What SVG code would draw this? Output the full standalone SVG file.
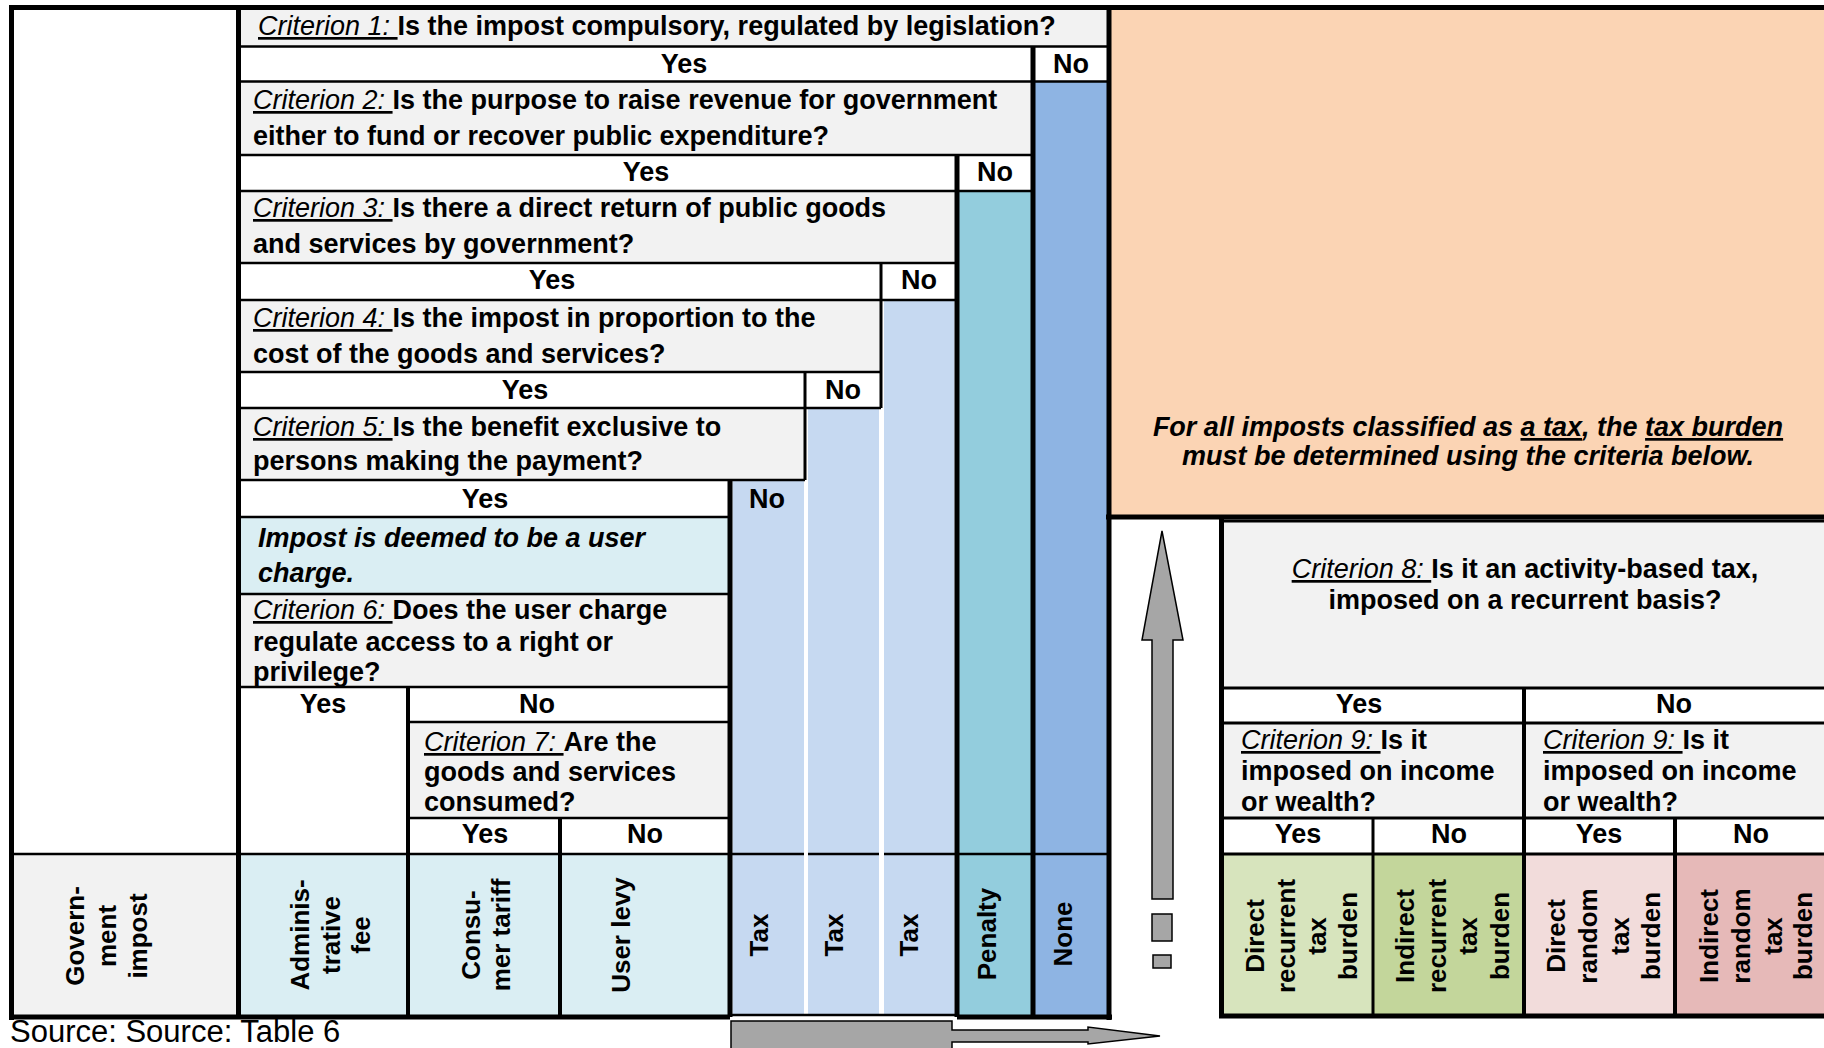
<svg xmlns="http://www.w3.org/2000/svg" width="1824" height="1048" viewBox="0 0 1824 1048">
<style>
text{font-family:"Liberation Sans",Arial,sans-serif;font-size:27px;font-weight:bold;fill:#000}
.m{text-anchor:middle}
.c{font-style:italic;font-weight:normal;text-decoration:underline}
.i{font-style:italic}
.u{text-decoration:underline}
.r{font-size:26px;text-anchor:middle}
.src{font-weight:normal;font-size:31px}
.q{fill:#f2f2f2}.w{fill:#fff}.lb{fill:#daeef3}.tx{fill:#c6d9f1}.pe{fill:#93cddd}.nn{fill:#8eb4e3}.or{fill:#fbd4b4}
.g1{fill:#d7e4bd}.g2{fill:#c3d69b}.p1{fill:#f2dcdb}.p2{fill:#e6b9b8}
.k{stroke:#000;stroke-width:5;fill:none}
.s{stroke:#000;stroke-width:2.5;fill:none}
.s4{stroke:#000;stroke-width:4;fill:none}
.arr{fill:#a6a6a6;stroke:#000;stroke-width:1.5}
</style>
<rect width="1824" height="1048" fill="#fff"/>

<g id="corner"><rect class="w" x="11.5" y="8" width="227" height="846"/></g>

<g id="crit1"><rect class="q" x="238.5" y="8" width="870.5" height="38.5"/>
<text x="258" y="35"><tspan class="c">Criterion 1: </tspan>Is the impost compulsory, regulated by legislation?</text></g>
<g id="yes1"><rect class="w" x="238.5" y="46.5" width="794.5" height="35"/><text class="m" x="684" y="73">Yes</text></g>
<g id="no1"><rect class="w" x="1033" y="46.5" width="76" height="35"/><text class="m" x="1071" y="73">No</text></g>

<g id="crit2"><rect class="q" x="238.5" y="81.5" width="794.5" height="73.5"/>
<text x="253" y="109"><tspan class="c">Criterion 2: </tspan>Is the purpose to raise revenue for government</text>
<text x="253" y="145">either to fund or recover public expenditure?</text></g>
<g id="yes2"><rect class="w" x="238.5" y="155" width="718.5" height="36"/><text class="m" x="646" y="181">Yes</text></g>
<g id="no2"><rect class="w" x="957" y="155" width="76" height="36"/><text class="m" x="995" y="181">No</text></g>

<g id="crit3"><rect class="q" x="238.5" y="191" width="718.5" height="72"/>
<text x="253" y="217"><tspan class="c">Criterion 3: </tspan>Is there a direct return of public goods</text>
<text x="253" y="253">and services by government?</text></g>
<g id="yes3"><rect class="w" x="238.5" y="263" width="642.5" height="37"/><text class="m" x="552" y="289">Yes</text></g>
<g id="no3"><rect class="w" x="881" y="263" width="76" height="37"/><text class="m" x="919" y="289">No</text></g>

<g id="crit4"><rect class="q" x="238.5" y="300" width="642.5" height="72"/>
<text x="253" y="327"><tspan class="c">Criterion 4: </tspan>Is the impost in proportion to the</text>
<text x="253" y="363">cost of the goods and services?</text></g>
<g id="yes4"><rect class="w" x="238.5" y="372" width="566.5" height="36"/><text class="m" x="525" y="399">Yes</text></g>
<g id="no4"><rect class="w" x="805" y="372" width="76" height="36"/><text class="m" x="843" y="399">No</text></g>

<g id="crit5"><rect class="q" x="238.5" y="408" width="566.5" height="72"/>
<text x="253" y="436"><tspan class="c">Criterion 5: </tspan>Is the benefit exclusive to</text>
<text x="253" y="470">persons making the payment?</text></g>
<g id="yes5"><rect class="w" x="238.5" y="480" width="491.5" height="37"/><text class="m" x="485" y="508">Yes</text></g>

<g id="user-charge"><rect class="lb" x="238.5" y="517" width="491.5" height="77"/>
<text class="i" x="258" y="547">Impost is deemed to be a user</text>
<text class="i" x="258" y="582">charge.</text></g>

<g id="crit6"><rect class="q" x="238.5" y="594" width="491.5" height="93"/>
<text x="253" y="619"><tspan class="c">Criterion 6: </tspan>Does the user charge</text>
<text x="253" y="651">regulate access to a right or</text>
<text x="253" y="681">privilege?</text></g>
<g id="yes6"><rect class="w" x="238.5" y="687" width="169.5" height="167"/><text class="m" x="323" y="713">Yes</text></g>
<g id="no6"><rect class="w" x="408" y="687" width="322" height="35"/><text class="m" x="537" y="713">No</text></g>

<g id="crit7"><rect class="q" x="408" y="722" width="322" height="96"/>
<text x="424" y="751"><tspan class="c">Criterion 7: </tspan>Are the</text>
<text x="424" y="781">goods and services</text>
<text x="424" y="811">consumed?</text></g>
<g id="yes7"><rect class="w" x="408" y="818" width="152" height="36"/><text class="m" x="485" y="843">Yes</text></g>
<g id="no7"><rect class="w" x="560" y="818" width="170" height="36"/><text class="m" x="645" y="843">No</text></g>

<g id="out-gov"><rect class="q" x="11.5" y="854" width="227" height="163"/>
<text class="r" transform="translate(84,936) rotate(-90)">Govern-</text>
<text class="r" transform="translate(116,936) rotate(-90)">ment</text>
<text class="r" transform="translate(147,936) rotate(-90)">impost</text></g>
<g id="out-admin"><rect class="lb" x="238.5" y="854" width="169.5" height="163"/>
<text class="r" transform="translate(309,935) rotate(-90)">Adminis-</text>
<text class="r" transform="translate(339.5,935) rotate(-90)">trative</text>
<text class="r" transform="translate(370,935) rotate(-90)">fee</text></g>
<g id="out-consumer"><rect class="lb" x="408" y="854" width="152" height="163"/>
<text class="r" transform="translate(480,935) rotate(-90)">Consu-</text>
<text class="r" transform="translate(510,935) rotate(-90)">mer tariff</text></g>
<g id="out-userlevy"><rect class="lb" x="560" y="854" width="170" height="163"/>
<text class="r" transform="translate(630,935) rotate(-90)">User levy</text></g>

<g id="col-tax1"><rect class="tx" x="732.5" y="480" width="71.5" height="535"/>
<text class="m" x="767" y="508">No</text>
<text class="r" transform="translate(768,935) rotate(-90)">Tax</text></g>
<g id="col-tax2"><rect class="tx" x="808" y="408" width="71" height="607"/>
<text class="r" transform="translate(843,935) rotate(-90)">Tax</text></g>
<g id="col-tax3"><rect class="tx" x="884" y="300" width="70.5" height="715"/>
<text class="r" transform="translate(918,935) rotate(-90)">Tax</text></g>
<g id="col-penalty"><rect class="pe" x="957" y="191" width="76" height="826"/>
<text class="r" transform="translate(996,934) rotate(-90)">Penalty</text></g>
<g id="col-none"><rect class="nn" x="1033" y="81.5" width="76" height="935.5"/>
<text class="r" transform="translate(1072,934) rotate(-90)">None</text></g>

<g id="note"><rect class="or" x="1109" y="8" width="717" height="509"/>
<text class="m i" x="1468" y="436">For all imposts classified as <tspan class="u">a tax</tspan>, the <tspan class="u">tax burden</tspan></text>
<text class="m i" x="1468" y="465">must be determined using the criteria below.</text></g>

<g id="crit8"><rect class="q" x="1221.5" y="519" width="604.5" height="169"/>
<text class="m" x="1525" y="578"><tspan class="c">Criterion 8: </tspan>Is it an activity-based tax,</text>
<text class="m" x="1525" y="609">imposed on a recurrent basis?</text></g>
<g id="yes8"><rect class="w" x="1221.5" y="688" width="302.5" height="35"/><text class="m" x="1359" y="713">Yes</text></g>
<g id="no8"><rect class="w" x="1524" y="688" width="302" height="35"/><text class="m" x="1674" y="713">No</text></g>
<g id="crit9a"><rect class="q" x="1221.5" y="723" width="302.5" height="95"/>
<text x="1241" y="749"><tspan class="c">Criterion 9: </tspan>Is it</text>
<text x="1241" y="780">imposed on income</text>
<text x="1241" y="811">or wealth?</text></g>
<g id="crit9b"><rect class="q" x="1524" y="723" width="302" height="95"/>
<text x="1543" y="749"><tspan class="c">Criterion 9: </tspan>Is it</text>
<text x="1543" y="780">imposed on income</text>
<text x="1543" y="811">or wealth?</text></g>
<g id="yes9a"><rect class="w" x="1221.5" y="818" width="151.5" height="36"/><text class="m" x="1298" y="843">Yes</text></g>
<g id="no9a"><rect class="w" x="1373" y="818" width="151" height="36"/><text class="m" x="1449" y="843">No</text></g>
<g id="yes9b"><rect class="w" x="1524" y="818" width="151" height="36"/><text class="m" x="1599" y="843">Yes</text></g>
<g id="no9b"><rect class="w" x="1675" y="818" width="151" height="36"/><text class="m" x="1751" y="843">No</text></g>

<g id="out-direct-recurrent"><rect class="g1" x="1221.5" y="854" width="151.5" height="162"/>
<text class="r" transform="translate(1264,936) rotate(-90)">Direct</text>
<text class="r" transform="translate(1295,936) rotate(-90)">recurrent</text>
<text class="r" transform="translate(1326,936) rotate(-90)">tax</text>
<text class="r" transform="translate(1357,936) rotate(-90)">burden</text></g>
<g id="out-indirect-recurrent"><rect class="g2" x="1373" y="854" width="151" height="162"/>
<text class="r" transform="translate(1414,936) rotate(-90)">Indirect</text>
<text class="r" transform="translate(1446,936) rotate(-90)">recurrent</text>
<text class="r" transform="translate(1477,936) rotate(-90)">tax</text>
<text class="r" transform="translate(1509,936) rotate(-90)">burden</text></g>
<g id="out-direct-random"><rect class="p1" x="1524" y="854" width="151" height="162"/>
<text class="r" transform="translate(1565,936) rotate(-90)">Direct</text>
<text class="r" transform="translate(1597,936) rotate(-90)">random</text>
<text class="r" transform="translate(1629,936) rotate(-90)">tax</text>
<text class="r" transform="translate(1660,936) rotate(-90)">burden</text></g>
<g id="out-indirect-random"><rect class="p2" x="1675" y="854" width="151" height="162"/>
<text class="r" transform="translate(1718,936) rotate(-90)">Indirect</text>
<text class="r" transform="translate(1750,936) rotate(-90)">random</text>
<text class="r" transform="translate(1782,936) rotate(-90)">tax</text>
<text class="r" transform="translate(1812,936) rotate(-90)">burden</text></g>

<g id="grid">
<path class="s" d="M238.5 46.5H1109M238.5 81.5H1109M238.5 155H1033M238.5 191H1033M238.5 263H957M238.5 300H957M238.5 372H881M238.5 408H881M238.5 480H805M238.5 517H730M238.5 594H730M238.5 687H730M408 722H730M408 818H730M11.5 854H804M808 854H879M884 854H1109M730 1015H957"/>
<path class="s4" d="M408 687V1017M560 818V1017"/>
<path stroke="#000" stroke-width="3" fill="none" d="M805 372V480M881 263V408"/>
<path class="k" d="M9 7.5H1824M11.5 5V1020M238.5 8V1017M1109 5V1020M9 1017H730M957 1017H1112M730 480V1017M957 155V1017M1033 46.5V1017M1106 517H1824"/>
<path class="k" d="M1221.5 517V1018M1219 1016H1824"/>
<path stroke="#000" stroke-width="3" fill="none" d="M1219 521H1824M1221 688H1824M1221 723H1824M1221 818H1824M1221 854H1824M1373 818V1016"/>
<path class="s4" d="M1524 688V1016M1675 818V1016"/>
</g>

<g id="connectors">
<path class="arr" d="M1162 531L1183 640H1173V899H1152V640H1142Z"/>
<rect class="arr" x="1152" y="914" width="20" height="27"/>
<rect class="arr" x="1153" y="955" width="18" height="13"/>
<path class="arr" d="M731 1060V1021H952V1030H1088V1027L1160 1036L1088 1044V1042H952V1060Z"/>
</g>

<g id="source"><text class="src" x="10" y="1042">Source: Source: Table 6</text></g>
</svg>
